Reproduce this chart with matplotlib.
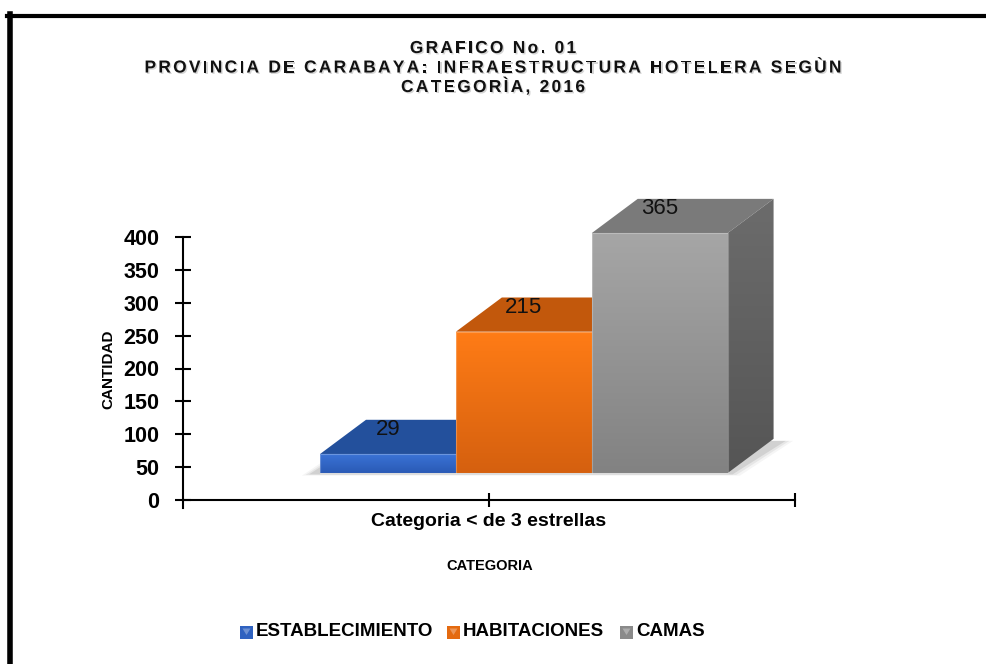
import numpy as np
import matplotlib
matplotlib.use('Agg')
import matplotlib.pyplot as plt
import matplotlib.patheffects as pe
from matplotlib.patches import Polygon, Rectangle
from matplotlib.lines import Line2D
from matplotlib.colors import LinearSegmentedColormap
from matplotlib.font_manager import FontProperties, findfont, get_font
from matplotlib.ft2font import LOAD_NO_HINTING

# ---------------- data ----------------
series = ['ESTABLECIMIENTO', 'HABITACIONES', 'CAMAS']
values = [29, 215, 365]
category = 'Categoria < de 3 estrellas'
yticks = [0, 50, 100, 150, 200, 250, 300, 350, 400]
title_lines = ['GRAFICO No. 01',
               'PROVINCIA DE CARABAYA: INFRAESTRUCTURA HOTELERA SEGÙN',
               'CATEGORÌA, 2016']
ylabel = 'CANTIDAD'
xlabel = 'CATEGORIA'

# colours: front top, front bottom, top face, side top, side bottom, legend
colors = [
    dict(ft='#3b74d8', fb='#2a5ab5', top='#23509c', st='#1e4488', sb='#183a78', leg='#2f62c0'),
    dict(ft='#ff7c16', fb='#d5600f', top='#c2580c', st='#a84a08', sb='#8e3e06', leg='#e46a10'),
    dict(ft='#a6a6a6', fb='#828282', top='#7a7a7a', st='#6c6c6c', sb='#555555', leg='#8a8a8a'),
]

FAM = ['Liberation Sans Narrow', 'Liberation Sans', 'DejaVu Sans']
plt.rcParams['font.family'] = FAM

W, H = 987, 664
fig = plt.figure(figsize=(W / 100, H / 100), dpi=100)

# axes: x 183..795 px, y=0 at 500 px, y=400 at 237 px
ppu = (500 - 237) / 400.0
YMAX = 470
ax_h = YMAX * ppu
ax = fig.add_axes([183 / W, (H - 500) / H, (795 - 183) / W, ax_h / H])
ax.set_facecolor('none')

# 3-D bar layout (projection constants)
b0 = 41.0          # base of front faces in axis units
dy = 52.0          # depth offset (y units)
dx = 0.075         # depth offset (x units)
x_start = 0.224
bw = 0.222


def grad_poly(verts, c_top, c_bot, z):
    poly = Polygon(verts, closed=True, facecolor='none', edgecolor='none', zorder=z)
    ax.add_patch(poly)
    xs = [v[0] for v in verts]
    ys = [v[1] for v in verts]
    cmap = LinearSegmentedColormap.from_list('g', [c_bot, c_top])
    grad = np.linspace(0, 1, 256).reshape(-1, 1)
    im = ax.imshow(grad, extent=[min(xs), max(xs), min(ys), max(ys)], origin='lower',
                   cmap=cmap, aspect='auto', zorder=z, interpolation='bilinear')
    im.set_clip_path(poly)
    return im


# soft floor shadow
x_end = x_start + bw * len(values)
for k, a in enumerate([0.04, 0.06, 0.09]):
    e = 0.02 - k * 0.006
    ax.add_patch(Polygon([(x_start - e - 0.01, b0 - 4 + k), (x_end + e, b0 - 4 + k),
                          (x_end + dx + e + 0.012, b0 + dy - 3), (x_start + dx - e, b0 + dy - 3)],
                         closed=True, facecolor='#000000', alpha=a, edgecolor='none', zorder=1))

for i, (v, c) in enumerate(zip(values, colors)):
    xl = x_start + i * bw
    xr = xl + bw
    t = b0 + v
    z = 2 + i * 3
    # top face
    ax.add_patch(Polygon([(xl, t), (xr, t), (xr + dx, t + dy), (xl + dx, t + dy)], closed=True,
                         facecolor=c['top'], edgecolor='none', zorder=z))
    # side face
    grad_poly([(xr, b0), (xr + dx, b0 + dy), (xr + dx, t + dy), (xr, t)], c['st'], c['sb'], z + 0.5)
    # front face
    grad_poly([(xl, b0), (xr, b0), (xr, t), (xl, t)], c['ft'], c['fb'], z + 1)
    ax.add_patch(Polygon([(xl, b0), (xr, b0), (xr, t), (xl, t)], closed=True, facecolor='none',
                         edgecolor='white', alpha=0.25, lw=0.8, zorder=z + 1.2))
    ax.text(xl + bw / 2, t + dy * 0.72, str(v), ha='center', va='center', fontsize=16,
            color='#111111', zorder=20)

ax.set_xlim(0, 1)
ax.set_ylim(0, YMAX)
ax.set_yticks(yticks)
ax.set_xticks([0.5, 1.0], labels=[category, ''])
for s in ['top', 'right']:
    ax.spines[s].set_visible(False)
ax.spines['left'].set_bounds(-12, 400)
ax.spines['left'].set_linewidth(1.5)
ax.spines['bottom'].set_linewidth(1.5)
ax.tick_params(axis='y', direction='inout', length=11, width=1.5, pad=11.5, labelsize=15.5)
ax.tick_params(axis='x', direction='inout', length=10, width=1.5, pad=4.5, labelsize=14)
for lab in ax.get_yticklabels() + ax.get_xticklabels():
    lab.set_fontweight('bold')

fig.text(108 / W, 1 - 369 / H, ylabel, rotation=90, ha='center', va='center',
         fontsize=11, fontweight='bold')
fig.text(490 / W, 1 - 566 / H, xlabel, ha='center', va='center', fontsize=10.5, fontweight='bold')


# ---------------- title with letter spacing ----------------
def advances(s, prop):
    font = get_font(findfont(prop))
    font.set_size(prop.get_size_in_points(), fig.dpi)
    out = []
    for ch in s:
        g = font.load_char(ord(ch), flags=LOAD_NO_HINTING)
        out.append(g.linearHoriAdvance / 65536)
    return out


tprop = FontProperties(family=FAM, weight='bold', size=12.5)
shadow = [pe.withSimplePatchShadow(offset=(1, -1), shadow_rgbFace='#888888', alpha=0.35)]
ref_adv = advances(title_lines[1], tprop)
spacing = (697 - sum(ref_adv)) / (len(title_lines[1]) - 1)
spacing = max(spacing, 0)
for line, yb in zip(title_lines, [53, 72.5, 92]):
    adv = advances(line, tprop)
    total = sum(adv) + spacing * (len(line) - 1)
    x = 493 - total / 2
    for ch, a in zip(line, adv):
        if ch != ' ':
            fig.text(x / W, 1 - yb / H, ch, fontproperties=tprop, ha='left', va='baseline',
                     color='#111111', path_effects=shadow)
        x += a + spacing

# ---------------- legend ----------------
leg_x = [240, 447, 620]
leg_y = 632
for name, c, lx in zip(series, colors, leg_x):
    sz = 13
    fig.add_artist(Rectangle((lx / W, 1 - (leg_y + sz / 2) / H), sz / W, sz / H,
                             transform=fig.transFigure, facecolor=c['leg'], edgecolor='none'))
    tri = [((lx + 2.5) / W, 1 - (leg_y - 3.5) / H), ((lx + sz - 2.5) / W, 1 - (leg_y - 3.5) / H),
           ((lx + sz / 2) / W, 1 - (leg_y + 3) / H)]
    fig.add_artist(Polygon(tri, closed=True, transform=fig.transFigure,
                           facecolor='white', alpha=0.3, edgecolor='none'))
    fig.text((lx + sz + 3) / W, 1 - leg_y / H, name, ha='left', va='center', fontsize=13.5,
             fontweight='bold')

# ---------------- outer border (top and left) ----------------
fig.add_artist(Line2D([7 / W, 1.0], [1 - 15.5 / H, 1 - 15.5 / H], transform=fig.transFigure,
                      color='black', lw=3))
fig.add_artist(Line2D([9.5 / W, 9.5 / W], [1 - 14 / H, 0], transform=fig.transFigure,
                      color='black', lw=4))

fig.savefig('out.png', dpi=100)
